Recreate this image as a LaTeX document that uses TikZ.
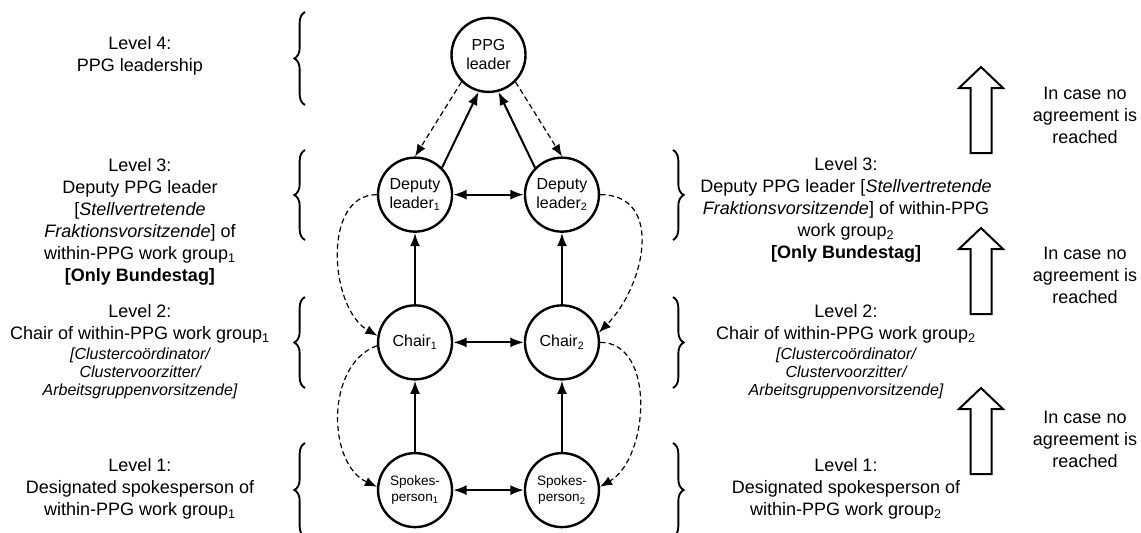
\documentclass[tikz,border=0pt]{standalone}
\usepackage{fontspec}
\setmainfont{Liberation Sans}
\usepackage{tikz}
\usetikzlibrary{matrix}
\usetikzlibrary{arrows.meta,decorations.pathreplacing}
\newcommand{\orgterm}[1]{\fontsize{12}{14}\selectfont\itshape #1}

\begin{document}
\begin{tikzpicture}[x=0.75pt,y=0.75pt,
	stage/.style={circle,draw,line width=1.8pt,minimum size=55.5pt,inner sep=1pt,align=center,font=\fontsize{12}{14.25}\selectfont},
	lvl/.style={align=center,inner sep=0pt,font=\fontsize{13.5}{16.5}\selectfont},
	lvlbrace/.style={decorate,decoration={brace,amplitude=8pt},line width=1.4pt},
	conn/.style={line width=1.5pt,>={Latex[length=10pt,width=7.5pt]}},
	esc/.style={line width=0.9pt,dash pattern=on 4pt off 2.5pt,>={Latex[length=9pt,width=7pt]}}]
\useasboundingbox (0,0) rectangle (1141,-532);
\clip (0,0) rectangle (1141,-532);

\matrix (m) [row sep=53.5pt,column sep=-2.2pt] at (488.5,-272.5)
{
	& \node[stage] (ppg) {PPG\\leader}; & \\[-6pt]
	\node[stage] (dep1) {Deputy\\leader\textsubscript{1}}; & & \node[stage] (dep2) {Deputy\\leader\textsubscript{2}}; \\
	\node[stage] (chair1) {Chair\textsubscript{1}}; & & \node[stage] (chair2) {Chair\textsubscript{2}}; \\
	\node[stage,font=\fontsize{10.2}{12.5}\selectfont] (sp1) {Spokes-\\person\textsubscript{1}}; & &
	\node[stage,font=\fontsize{10.2}{12.5}\selectfont] (sp2) {Spokes-\\person\textsubscript{2}}; \\
};

\path[conn,<->]
(dep1) edge (dep2)
(chair1) edge (chair2)
(sp1) edge (sp2);
\path[conn,->]
(chair1) edge (dep1)
(chair2) edge (dep2)
(sp1) edge (chair1)
(sp2) edge (chair2)
(dep1.45) edge (ppg.255)
(dep2.135) edge (ppg.285);
\path[esc,->]
(ppg.225) edge (dep1.90)
(ppg.315) edge (dep2.90)
(dep1.west) edge[out=180,in=150] (chair1.170)
(chair1.185) edge[out=200,in=155] (sp1.175)
(dep2.east) edge[out=0,in=45,looseness=1.2] (chair2.15)
(chair2.east) edge[out=0,in=30] (sp2.5);

% levels, left side
\foreach \a/\b in {12/105,150/240,297/388,443/537}
	\draw[lvlbrace] (305,-\b) -- (305,-\a);
\node[lvl] (lvl4l) at (140,-56) {Level 4:\\PPG leadership};
\node[lvl] (lvl3l) at (140,-222) {Level 3:\\Deputy PPG leader\\{[}\textit{Stellvertretende}\\\textit{Fraktionsvorsitzende}] of\\within-PPG work group\textsubscript{1}\\\textbf{[Only Bundestag]}};
\node[lvl] (lvl2l) at (140,-352) {Level 2:\\Chair of within-PPG work group\textsubscript{1}\\[-1.5pt]\orgterm{[Clustercoördinator/}\\[-3pt]\orgterm{Clustervoorzitter/}\\[-3pt]\orgterm{Arbeitsgruppenvorsitzende]}};
\node[lvl] (lvl1l) at (140,-489) {Level 1:\\Designated spokesperson of\\within-PPG work group\textsubscript{1}};

% levels, right side
\foreach \a/\b in {150/240,297/388,443/537}
	\draw[lvlbrace] (673,-\a) -- (673,-\b);
\node[lvl] (lvl3r) at (846,-210) {Level 3:\\Deputy PPG leader {[}\textit{Stellvertretende}\\\textit{Fraktionsvorsitzende}] of within-PPG\\work group\textsubscript{2}\\\textbf{[Only Bundestag]}};
\node[lvl] (lvl2r) at (846,-352) {Level 2:\\Chair of within-PPG work group\textsubscript{2}\\[-1.5pt]\orgterm{[Clustercoördinator/}\\[-3pt]\orgterm{Clustervoorzitter/}\\[-3pt]\orgterm{Arbeitsgruppenvorsitzende]}};
\node[lvl] (lvl1r) at (846,-489) {Level 1:\\Designated spokesperson of\\within-PPG work group\textsubscript{2}};

% escalation
\foreach \t in {67,228,388}
	\draw[line width=1.5pt] (981,-\t) -- ++(22,-21) -- ++(-11.5,0) -- ++(0,-65) -- ++(-21,0) -- ++(0,65) -- ++(-11.5,0) -- cycle;
\node[lvl] (esc3) at (1085,-115) {In case no\\agreement is\\reached};
\node[lvl] (esc2) at (1085,-275) {In case no\\agreement is\\reached};
\node[lvl] (esc1) at (1085,-439) {In case no\\agreement is\\reached};

\end{tikzpicture}
\end{document}
